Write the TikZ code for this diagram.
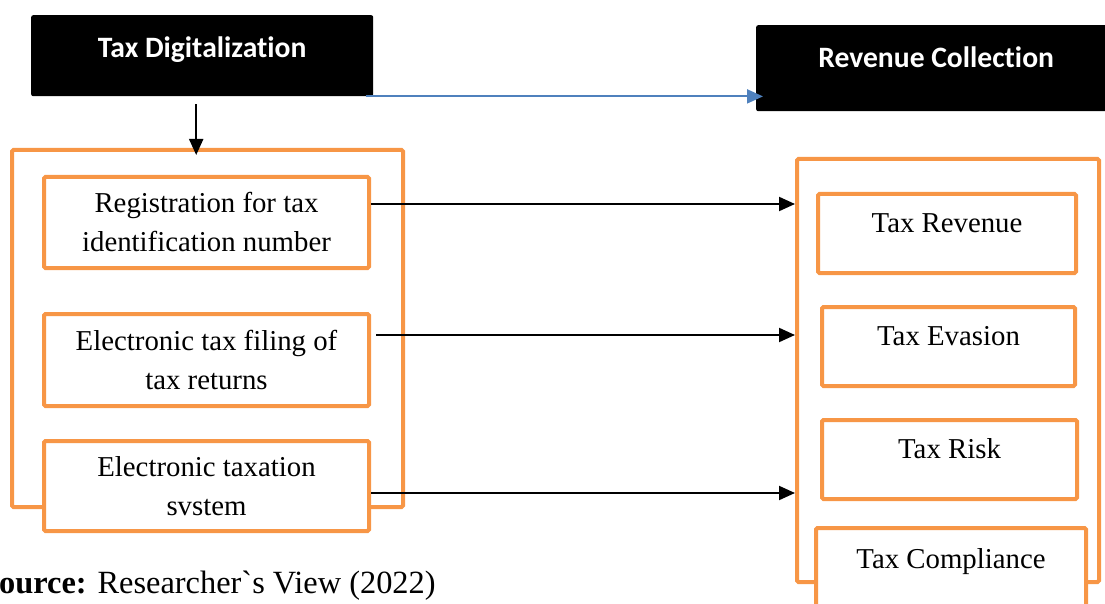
\documentclass[tikz,border=0pt]{standalone}
\usepackage{fontspec}
\setmainfont{Liberation Serif}
\newfontfamily\headfont[Ligatures=NoCommon]{Carlito}
\usetikzlibrary{arrows.meta}
\definecolor{boxorange}{HTML}{F79646}
\definecolor{linkblue}{HTML}{4F81BD}

\begin{document}
\begin{tikzpicture}[x=1pt, y=-1pt,
   head/.style={fill=black, rounded corners=2pt, inner sep=0pt, anchor=north west,
      text=white, font=\headfont\bfseries\fontsize{29.6}{34}\selectfont},
   frame/.style={draw=boxorange, line width=4pt, rounded corners=1.5pt,
      inner sep=0pt, anchor=north west},
   inbox/.style={frame, fill=white, align=center, font=\fontsize{28.8}{39}\selectfont},
   sidebox/.style={inbox, text height=38pt, text depth=41pt},
   link/.style={draw, line width=2pt, -{Triangle[length=16pt,width=14pt]}}]
    \useasboundingbox (0,0) rectangle (1105,604);

    \node[head, minimum width=342pt, text height=42pt, text depth=39pt] (digi) at (31,15) {Tax Digitalization};
    \node[head, minimum width=360pt, text height=42pt, text depth=44pt] (revc) at (756,25) {Revenue Collection};

    \node[frame, minimum width=391pt, minimum height=357pt] (lframe) at (10,148) {};
    \node[inbox, minimum width=325pt, minimum height=91pt] (reg) at (42,175) {Registration for tax\\identification number};
    \node[inbox, minimum width=325pt, minimum height=92pt] (efile) at (42,312) {Electronic tax filing of\\tax returns};
    \node[inbox, minimum width=325pt, minimum height=90pt] (etax) at (42,439) {Electronic taxation\\svstem};

    \node[frame, minimum width=302pt, minimum height=423pt] (rframe) at (795,157) {};
    \node[sidebox, minimum width=258pt] (trev) at (816,192) {Tax Revenue};
    \node[sidebox, minimum width=253pt] (teva) at (820,305) {Tax Evasion};
    \node[sidebox, minimum width=255pt] (trisk) at (820,418) {Tax Risk};
    \node[sidebox, minimum width=270pt, text height=40pt, text depth=39pt] (tcomp) at (814,526) {Tax Compliance};

    \coordinate (d1) at ([xshift=-6pt, yshift=-8pt]digi.south);
    \coordinate (a1) at ([yshift=18.5pt]reg.east);
    \coordinate (a2) at ([xshift=5pt, yshift=25pt]efile.east);
    \coordinate (a3) at ([yshift=-7pt]etax.east);

    \draw[link, shorten >=-7pt] (d1) -- (d1 |- lframe.north);
    \draw[link, draw=linkblue, shorten <=-7pt, shorten >=-7pt] (digi.south east) -- (digi.south east -| revc.west);
    \draw[link] (a1) -- (a1 -| rframe.west);
    \draw[link] (a2) -- (a2 -| rframe.west);
    \draw[link] (a3) -- (a3 -| rframe.west);

    \node[anchor=base west, inner sep=0pt, font=\fontsize{32.4}{39}\selectfont] (src) at (-1,593)
       {\textbf{ource:} Researcher\textasciigrave s View (2022)};
\end{tikzpicture}
\end{document}
